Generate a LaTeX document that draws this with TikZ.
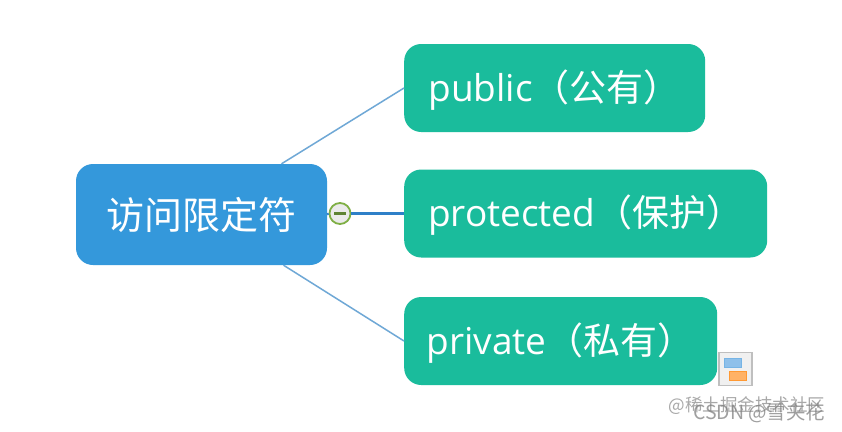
\documentclass[tikz,border=0pt]{standalone}
\usepackage{fontspec}
\setmainfont{Open Sans}
\newfontfamily\cjk{Noto Sans CJK SC}
\usetikzlibrary{positioning}
\definecolor{rootblue}{HTML}{3498DB}
\definecolor{leafgreen}{HTML}{1ABC9C}
\definecolor{linkblue}{HTML}{6FA8D6}
\definecolor{linkdark}{HTML}{2F80C8}
\definecolor{foldgreen}{HTML}{7FAF45}
\tikzset{
  root/.style={rectangle,rounded corners=17pt,fill=rootblue,text=white,minimum width=251pt,minimum height=101pt,inner sep=0pt,font=\cjk\fontsize{38}{42}\selectfont},
  leaf/.style={rectangle,rounded corners=17pt,fill=leafgreen,text=white,minimum height=88pt,inner sep=0pt,text height=26pt,text depth=0pt,font=\fontsize{37}{42}\selectfont},
  link/.style={draw=linkblue,line width=1.5pt},
  linkopen/.style={draw=linkdark,line width=2.05pt},
}
\begin{document}
\begin{tikzpicture}[x=1pt,y=-1pt]
   \useasboundingbox (0,0) rectangle (842,431);
   \fill[white] (0,0) rectangle (842,431);
   \node[root] (root) at (201.5,214.5) {访问限定符};
   \node[leaf,minimum width=301pt,anchor=west] (public) at (404,88) {public{\cjk（公有）}};
   \node[leaf,minimum width=363pt,anchor=west] (protected) at (404,213.5) {protected{\cjk（保护）}};
   \node[leaf,minimum width=313pt,anchor=west] (private) at (404,341) {private{\cjk（私有）}};
   \coordinate (upstart) at ([xshift=80pt]root.north);
   \coordinate (downstart) at ([xshift=82pt]root.south);
   \node[circle,draw=foldgreen,line width=1.8pt,fill=black!8,minimum size=21pt,inner sep=0pt] (fold) at (340,213.5) {};
   \draw[foldgreen!75!black,line width=2.2pt] (fold.center) ++(-6,0) -- ++(12,0);
    \path[link]
    (upstart) edge (public.west)
    (downstart) edge (private.west);
   \draw[linkopen] (root.east) -- (fold.west);
   \draw[linkopen] (fold.east) -- (protected.west);
   % small layout icon
   \node[rectangle,fill=black!6,draw=black!25,line width=1.5pt,minimum size=33pt,inner sep=0pt] (icon) at (735.5,369) {};
   \node[rectangle,fill=cyan!70!blue!45,draw=cyan!70!blue!55,minimum width=17pt,minimum height=9pt,inner sep=0pt] (iconup) at (733,363) {};
   \node[rectangle,fill=orange!60,draw=orange!80,minimum width=17pt,minimum height=9pt,inner sep=0pt] (icondown) at (738,376) {};
   % overlapping marks
   \node[text=black!45,opacity=.75,font=\cjk\fontsize{17.5}{20}\selectfont,anchor=east] (markone) at (829,406) {@稀土掘金技术社区};
   \node[text=black!50,opacity=.75,font=\cjk\fontsize{19.5}{22}\selectfont,anchor=east] (marktwo) at (829,413) {CSDN @雪夹花};
\end{tikzpicture}
\end{document}
